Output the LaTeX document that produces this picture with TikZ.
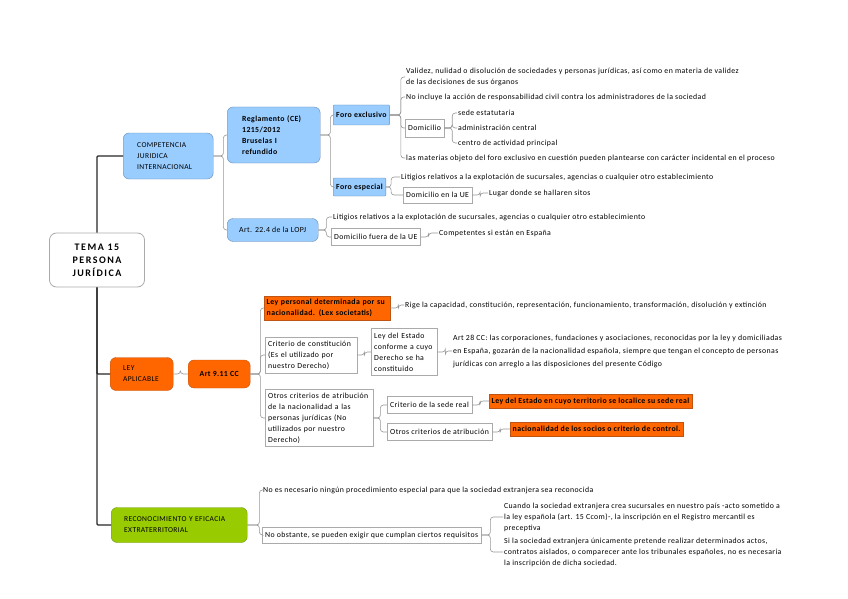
\documentclass[tikz,border=0pt]{standalone}
\usepackage{fontspec}
\setmainfont{Carlito}
\usetikzlibrary{positioning}
\definecolor{mapblue}{RGB}{153,204,255}
\definecolor{mapblueline}{RGB}{105,140,180}
\definecolor{maporange}{RGB}{255,102,0}
\definecolor{maporangeline}{RGB}{190,85,20}
\definecolor{mapgreen}{RGB}{153,204,0}
\definecolor{mapgreenline}{RGB}{110,150,20}
\definecolor{linkgray}{RGB}{150,150,150}
\definecolor{boxgray}{RGB}{170,170,170}
\newcommand{\mapfont}{\fontsize{7.8}{11}\selectfont\addfontfeature{LetterSpace=5}}
\newcommand{\capsfont}{\fontsize{7.5}{11}\selectfont\addfontfeature{LetterSpace=5}}
\tikzset{
  rootbox/.style={draw=boxgray, rounded corners=7pt, fill=white, thick,
                  minimum width=95pt, minimum height=54pt, align=center,
                  font=\fontsize{10}{13}\selectfont\bfseries\addfontfeature{LetterSpace=15}},
  topbox/.style={draw=mapblueline, fill=mapblue, rounded corners=6pt, anchor=west,
                 align=left, font=\capsfont},
  bluebox/.style={draw=mapblueline, fill=mapblue, rounded corners=6pt, anchor=west,
                  align=left},
  foro/.style={draw=mapblueline, fill=mapblue, rounded corners=1pt, anchor=west,
               align=left, inner xsep=3pt, inner ysep=2pt, font=\mapfont\bfseries},
  orangebox/.style={draw=maporangeline, fill=maporange, rounded corners=6pt,
                    anchor=west, align=left},
  orangeleaf/.style={draw=maporangeline, fill=maporange, anchor=west, align=left,
                     inner xsep=2.5pt, inner ysep=2pt, font=\mapfont\bfseries},
  greenbox/.style={draw=mapgreenline, fill=mapgreen, rounded corners=6pt,
                   anchor=west, align=left, font=\capsfont},
  plainbox/.style={draw=boxgray, fill=white, anchor=west, align=left,
                   inner xsep=3pt, inner ysep=2.5pt},
  txt/.style={anchor=west, align=left, inner sep=1pt},
  trunk/.style={draw=black!85, line width=1.3pt, rounded corners=1pt},
  link/.style={draw=linkgray, line width=0.6pt, rounded corners=3pt}
}
\begin{document}
\begin{tikzpicture}[x=1pt, y=-1pt, font=\mapfont]
  \useasboundingbox (0,0) rectangle (848,599);
  \node[rootbox] (root) at (97,260) {TEMA 15\\PERSONA\\JURÍDICA};

  \node[topbox, inner xsep=14pt, text width=62pt, minimum height=46pt] (comp) at (123,156)
       {COMPETENCIA\\JURIDICA\\INTERNACIONAL};
  \node[bluebox, inner xsep=15pt, text width=63pt, minimum height=56pt, font=\mapfont\bfseries] (regl) at (227,135)
       {Reglamento (CE)\\1215/2012\\Bruselas I\\refundido};
  \node[bluebox, minimum width=91pt, minimum height=23pt, align=center] (lopj) at (227,230)
       {Art. 22.4 de la LOPJ};
  \node[foro, minimum height=20pt] (forex) at (333,115) {Foro exclusivo};
  \node[foro, minimum height=18pt] (foresp) at (333,187) {Foro especial};

  \node[txt] (validez) at (405,77) {Validez, nulidad o disolución de sociedades y personas jurídicas, así como en materia de validez\\de las decisiones de sus órganos};
  \node[txt] (noincl) at (405,97) {No incluye la acción de responsabilidad civil contra los administradores de la sociedad};
  \node[plainbox, minimum height=18pt] (domic) at (405,128) {Domicilio};
  \node[txt] (sede) at (457,113) {sede estatutaria};
  \node[txt] (admin) at (457,128) {administración central};
  \node[txt] (centro) at (457,143) {centro de actividad principal};
  \node[txt] (materias) at (405,158) {las materias objeto del foro exclusivo en cuestión pueden plantearse con carácter incidental en el proceso};

  \node[txt] (litigue) at (400,177) {Litigios relativos a la explotación de sucursales, agencias o cualquier otro establecimiento};
  \node[plainbox, minimum height=16pt] (domue) at (403,195) {Domicilio en la UE};
  \node[txt] (lugar) at (488,193) {Lugar donde se hallaren sitos};

  \node[txt] (litigfuera) at (332,217) {Litigios relativos a la explotación de sucursales, agencias o cualquier otro establecimiento};
  \node[plainbox, minimum height=17pt] (domfuera) at (331,237) {Domicilio fuera de la UE};
  \node[txt] (compet) at (438,233) {Competentes si están en España};

  \node[orangebox, inner xsep=13pt, text width=37pt, minimum height=33pt, font=\capsfont] (ley) at (110,374)
       {LEY\\APLICABLE};
  \node[orangebox, minimum width=62pt, minimum height=28pt, align=center, font=\mapfont\bfseries] (art) at (188,374) {Art 9.11 CC};
  \node[orangeleaf, text width=121pt, minimum height=24pt] (lex) at (264,308)
       {Ley personal determinada por su\\nacionalidad. (Lex societatis)};
  \node[txt] (rige) at (404,305) {Rige la capacidad, constitución, representación, funcionamiento, transformación, disolución y extinción};
  \node[plainbox, text width=86pt, minimum height=36pt] (constit) at (265,355)
       {Criterio de constitución\\(Es el utilizado por\\nuestro Derecho)};
  \node[plainbox, text width=60pt, minimum height=47pt] (leyestado) at (371,352)
       {Ley del Estado\\conforme a cuyo\\Derecho se ha\\constituido};
  \node[txt, font=\fontsize{7.8}{13}\selectfont\addfontfeature{LetterSpace=5}] (art28) at (452,351)
       {Art 28 CC: las corporaciones, fundaciones y asociaciones, reconocidas por la ley y domiciliadas\\en España, gozarán de la nacionalidad española, siempre que tengan el concepto de personas\\jurídicas con arreglo a las disposiciones del presente Código};
  \node[plainbox, text width=102pt, minimum height=57pt] (otros) at (265,418)
       {Otros criterios de atribución\\de la nacionalidad a las\\personas jurídicas (No\\utilizados por nuestro\\Derecho)};
  \node[plainbox, minimum height=17pt] (sedereal) at (387,405) {Criterio de la sede real};
  \node[plainbox, minimum height=17pt] (otrosatr) at (387,432) {Otros criterios de atribución};
  \node[orangeleaf, minimum height=14pt] (leysede) at (489,401)
       {Ley del Estado en cuyo territorio se localice su sede real};
  \node[orangeleaf, minimum height=14pt] (socios) at (510,429)
       {nacionalidad de los socios o criterio de control.};

  \node[greenbox, inner xsep=13pt, text width=110pt, minimum height=35pt] (recon) at (111,525)
       {RECONOCIMIENTO Y EFICACIA\\EXTRATERRITORIAL};
  \node[txt] (noes) at (262,490) {No es necesario ningún procedimiento especial para que la sociedad extranjera sea reconocida};
  \node[plainbox, minimum height=16pt] (noobst) at (262,535)
       {No obstante, se pueden exigir que cumplan ciertos requisitos};
  \node[txt] (cuando) at (503,517)
       {Cuando la sociedad extranjera crea sucursales en nuestro país -acto sometido a\\la ley española (art. 15 Ccom)-, la inscripción en el Registro mercantil es\\preceptiva};
  \node[txt] (sila) at (503,552)
       {Si la sociedad extranjera únicamente pretende realizar determinados actos,\\contratos aislados, o comparecer ante los tribunales españoles, no es necesaria\\la inscripción de dicha sociedad.};

  \draw[trunk] (root.north) |- (comp.west);
  \draw[trunk] (root.south) |- (ley.west);
  \draw[trunk] (root.south) |- (recon.west);

  \draw[link] (comp.east) -- ++(10,0) |- (regl.west);
  \draw[link] (comp.east) -- ++(10,0) |- (lopj.west);
  \draw[link] (regl.east) -- ++(10,0) |- (forex.west);
  \draw[link] (regl.east) -- ++(10,0) |- (foresp.west);
  \draw[link] (forex.east) -- ++(11,0) |- (validez.west);
  \draw[link] (forex.east) -- ++(11,0) |- (noincl.west);
  \draw[link] (forex.east) -- ++(11,0) |- (domic.west);
  \draw[link] (forex.east) -- ++(11,0) |- (materias.west);
  \draw[link] (domic.east) -- ++(8,0) |- (sede.west);
  \draw[link] (domic.east) -- ++(8,0) |- (admin.west);
  \draw[link] (domic.east) -- ++(8,0) |- (centro.west);
  \draw[link] (foresp.east) -- ++(5,0) |- (litigue.west);
  \draw[link] (foresp.east) -- ++(5,0) |- (domue.west);
  \draw[link] (domue.east) -- ++(8,0) |- (lugar.west);
  \draw[link] (lopj.east) -- ++(8,0) |- (litigfuera.west);
  \draw[link] (lopj.east) -- ++(8,0) |- (domfuera.west);
  \draw[link] (domfuera.east) -- ++(8,0) |- (compet.west);

  \draw[link] (ley.east) -- ++(7,0) |- (art.west);
  \draw[link] (art.east) -- ++(10,0) |- (lex.west);
  \draw[link] (art.east) -- ++(10,0) |- (constit.west);
  \draw[link] (art.east) -- ++(10,0) |- (otros.west);
  \draw[link] (lex.east) -- ++(8,0) |- (rige.west);
  \draw[link] (constit.east) -- ++(7,0) |- (leyestado.west);
  \draw[link] (leyestado.east) -- ++(8,0) |- (art28.west);
  \draw[link] (otros.east) -- ++(7,0) |- (sedereal.west);
  \draw[link] (otros.east) -- ++(7,0) |- (otrosatr.west);
  \draw[link] (sedereal.east) -- ++(8,0) |- (leysede.west);
  \draw[link] (otrosatr.east) -- ++(8,0) |- (socios.west);

  \draw[link] (recon.east) -- ++(12,0) |- (noes.west);
  \draw[link] (recon.east) -- ++(12,0) |- (noobst.west);
  \draw[link] (noobst.east) -- ++(9,0) |- (cuando.west);
  \draw[link] (noobst.east) -- ++(9,0) |- (sila.west);
\end{tikzpicture}
\end{document}
